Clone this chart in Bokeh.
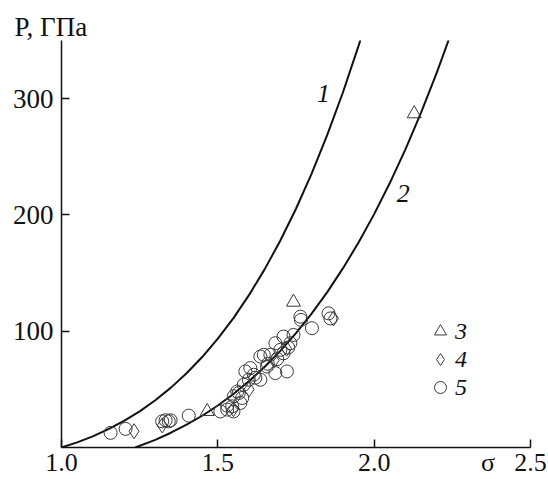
from bokeh.plotting import figure
from bokeh.models import Label, Legend, LegendItem, FixedTicker, Range1d, Title
from bokeh.embed import file_html
from bokeh.resources import INLINE

# ---- data ----
curve1_sigma = [1.0, 1.05, 1.1, 1.15, 1.2, 1.25, 1.3, 1.35, 1.4, 1.45, 1.5, 1.55, 1.6,
                1.65, 1.7, 1.75, 1.8, 1.85, 1.9, 1.95, 1.96]
curve1_P = [0.0, 4.4, 9.6, 15.8, 22.9, 31.1, 40.6, 51.5, 63.8, 77.8, 93.6, 111.3, 131.2,
            153.4, 178.0, 205.3, 235.5, 268.8, 305.3, 345.4, 353.9]

curve2_sigma = [1.236, 1.3, 1.35, 1.4, 1.45, 1.5, 1.55, 1.6, 1.65, 1.7, 1.75, 1.8, 1.85,
                1.9, 1.95, 2.0, 2.05, 2.1, 2.15, 2.2, 2.25]
curve2_P = [0.0, 6.6, 12.7, 19.6, 27.3, 36.1, 46.0, 57.1, 69.4, 83.1, 98.3, 115.1, 133.6,
            154.0, 176.3, 200.7, 227.4, 256.4, 288.0, 322.1, 359.1]

tri_sigma = [1.466, 1.742, 2.128]
tri_P = [31.0, 125.0, 287.0]

dia_sigma = [1.232, 1.322, 1.55, 1.60, 1.68, 1.72, 1.87]
dia_P = [14.0, 19.0, 33.0, 50.0, 75.0, 85.0, 111.0]

circ_sigma = [1.157, 1.205, 1.322, 1.333, 1.343, 1.349, 1.407,
              1.508, 1.53, 1.546, 1.55, 1.572, 1.578, 1.567,
              1.551, 1.562, 1.583, 1.599, 1.636, 1.615, 1.588, 1.604, 1.657, 1.684,
              1.721, 1.636, 1.647, 1.668, 1.71, 1.684, 1.71, 1.732, 1.742, 1.764,
              1.766, 1.801, 1.854, 1.86, 1.53, 1.62, 1.66, 1.69, 1.70, 1.725]
circ_P = [12.6, 16.0, 22.5, 23.4, 22.5, 23.4, 27.4,
          31.0, 32.6, 35.4, 31.0, 38.3, 42.6, 46.9,
          44.0, 48.2, 54.0, 58.3, 58.3, 62.6, 65.4, 68.3, 69.7, 64.0,
          65.4, 78.2, 79.7, 79.7, 81.0, 89.7, 95.4, 89.7, 96.8, 112.5,
          109.7, 102.6, 115.4, 111.0, 36.0, 60.0, 72.0, 76.0, 84.0, 86.0]

x_ticks = [1.0, 1.5, 2.0, 2.5]
x_tick_labels = ["1.0", "1.5", "2.0", "2.5"]
x_title = "σ"
x_title_pos = 2.364
y_ticks = [100, 200, 300]
y_tick_labels = ["100", "200", "300"]
y_title = "P, ГПа"

curve_labels = ["1", "2"]
curve_label_sigma = [1.838, 2.093]
curve_label_P = [304, 218]
legend_labels = ["3", "4", "5"]

FONT = "Liberation Serif"
INK = "#111111"
MARK = "#3a3a3a"

p = figure(width=548, height=479, x_range=Range1d(1.0, 2.5), y_range=Range1d(0, 350),
           output_backend="svg", toolbar_location=None,
           min_border_left=61, min_border_right=18, min_border_top=40, min_border_bottom=31)
p.outline_line_color = None
p.xgrid.grid_line_color = None
p.ygrid.grid_line_color = None
p.background_fill_color = "white"
p.border_fill_color = "white"

for ax in (p.xaxis[0], p.yaxis[0]):
    ax.axis_line_color = INK
    ax.axis_line_width = 1.5
    ax.major_tick_line_color = INK
    ax.major_tick_line_width = 1.5
    ax.major_tick_in = 8
    ax.major_tick_out = 0
    ax.minor_tick_line_color = None
    ax.major_label_text_font = FONT
    ax.major_label_text_color = INK

p.yaxis.major_label_text_font_size = "27px"
p.xaxis.major_label_text_font_size = "26px"

# x axis: labelled positions include the axis title σ; tick marks drawn as minor ticks
p.xaxis.ticker = FixedTicker(ticks=x_ticks + [x_title_pos], minor_ticks=x_ticks)
labels_map = dict(zip(x_ticks, x_tick_labels))
labels_map[x_title_pos] = x_title
p.xaxis.major_label_overrides = labels_map
p.xaxis.major_tick_line_color = None
p.xaxis.minor_tick_line_color = INK
p.xaxis.minor_tick_line_width = 1.5
p.xaxis.minor_tick_in = 8
p.xaxis.minor_tick_out = 0
p.xaxis.major_label_standoff = 0

p.yaxis.ticker = FixedTicker(ticks=y_ticks)
p.yaxis.major_label_overrides = dict(zip(y_ticks, y_tick_labels))
p.yaxis.major_label_standoff = 8

p.add_layout(Title(text=y_title, align="left", offset=-47, standoff=-3,
                   text_font=FONT, text_font_size="27px", text_font_style="normal",
                   text_color=INK), "above")

p.line(curve1_sigma, curve1_P, line_color=INK, line_width=2)
p.line(curve2_sigma, curve2_P, line_color=INK, line_width=2)

r3 = p.scatter(tri_sigma, tri_P, marker="triangle", size=14, fill_color=None,
               line_color=MARK, line_width=1)
r4 = p.scatter(dia_sigma, dia_P, marker="diamond", size=15, fill_color=None,
               line_color=MARK, line_width=1)
r5 = p.scatter(circ_sigma, circ_P, marker="circle", size=13, fill_color=None,
               line_color=MARK, line_width=1)

for t, xs, ys in zip(curve_labels, curve_label_sigma, curve_label_P):
    p.add_layout(Label(x=xs, y=ys, text=t, text_font=FONT, text_font_size="26px",
                       text_font_style="italic", text_align="center",
                       text_baseline="middle", text_color=INK))

# one legend block per row so the rows can sit as tightly as in the original
legend_rows_y = [101, 73, 45]
for lab, rend, ly in zip(legend_labels, [r3, r4, r5], legend_rows_y):
    lg = Legend(items=[LegendItem(label=lab, renderers=[rend])],
                location=(364, ly), orientation="vertical",
                label_text_font=FONT, label_text_font_size="24px",
                label_text_font_style="italic", label_text_color=INK,
                glyph_width=30, glyph_height=30, label_height=24, spacing=0,
                label_standoff=0, padding=0, margin=0,
                border_line_color=None, background_fill_alpha=0)
    p.add_layout(lg)

open("out.html", "w").write(file_html(p, INLINE))
